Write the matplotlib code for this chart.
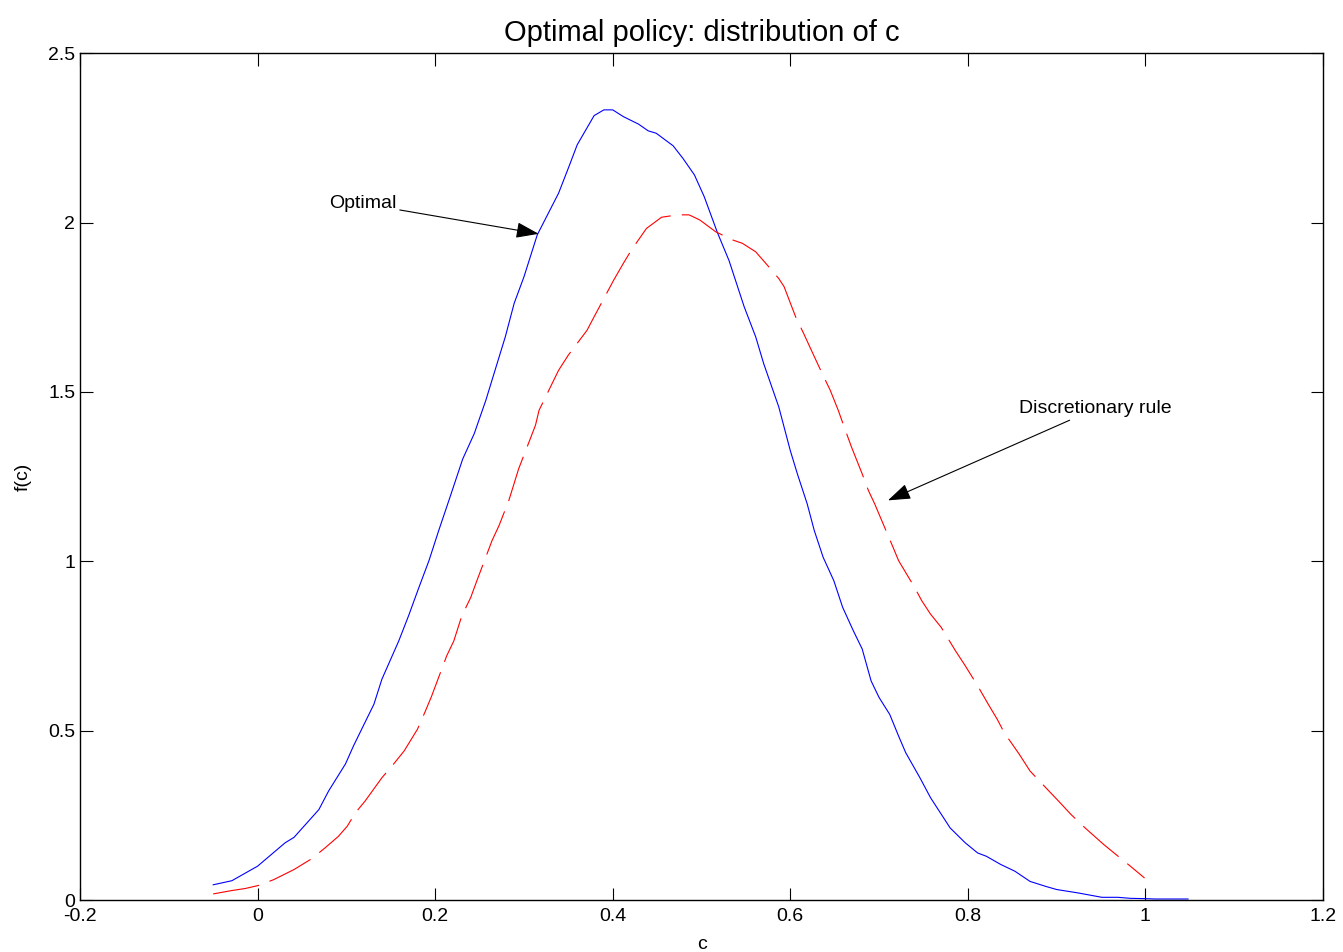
import matplotlib
matplotlib.use("Agg")
import matplotlib.pyplot as plt

plt.rcParams['font.family'] = ['Liberation Sans', 'DejaVu Sans']

# Optimal policy density
c_opt = [-0.050, -0.029, 0.000, 0.031, 0.041, 0.069, 0.080, 0.099, 0.108, 0.119,
         0.131, 0.140, 0.159, 0.170, 0.181, 0.193, 0.204, 0.216, 0.231, 0.244,
         0.257, 0.279, 0.289, 0.300, 0.315, 0.339, 0.350, 0.360, 0.379, 0.390,
         0.400, 0.412, 0.429, 0.440, 0.449, 0.468, 0.479, 0.492, 0.503, 0.518,
         0.531, 0.548, 0.561, 0.570, 0.587, 0.600, 0.608, 0.619, 0.627, 0.637,
         0.649, 0.659, 0.671, 0.681, 0.691, 0.700, 0.712, 0.722, 0.730, 0.746,
         0.758, 0.780, 0.797, 0.811, 0.821, 0.837, 0.853, 0.870, 0.888, 0.900,
         0.924, 0.951, 0.969, 0.983, 1.000, 1.011, 1.048]
f_opt = [0.045, 0.057, 0.100, 0.169, 0.185, 0.267, 0.322, 0.402, 0.455, 0.514,
         0.578, 0.652, 0.765, 0.839, 0.918, 1.002, 1.091, 1.184, 1.302, 1.377,
         1.475, 1.663, 1.762, 1.840, 1.964, 2.087, 2.161, 2.230, 2.316, 2.333,
         2.333, 2.313, 2.291, 2.271, 2.264, 2.227, 2.190, 2.141, 2.077, 1.970,
         1.888, 1.752, 1.663, 1.584, 1.456, 1.327, 1.258, 1.170, 1.091, 1.012,
         0.943, 0.864, 0.795, 0.741, 0.647, 0.598, 0.548, 0.484, 0.435, 0.361,
         0.302, 0.213, 0.169, 0.139, 0.129, 0.105, 0.085, 0.055, 0.040, 0.031,
         0.021, 0.008, 0.008, 0.005, 0.004, 0.003, 0.003]

# Discretionary rule density
c_dis = [-0.050, -0.029, -0.014, 0.001, 0.018, 0.041, 0.061, 0.076, 0.091, 0.101,
         0.110, 0.121, 0.140, 0.153, 0.165, 0.180, 0.189, 0.196, 0.213, 0.221,
         0.230, 0.240, 0.247, 0.264, 0.272, 0.283, 0.294, 0.313, 0.317, 0.339,
         0.350, 0.371, 0.378, 0.388, 0.401, 0.412, 0.421, 0.438, 0.455, 0.473,
         0.486, 0.498, 0.516, 0.535, 0.546, 0.561, 0.574, 0.587, 0.593, 0.606,
         0.615, 0.628, 0.636, 0.645, 0.654, 0.662, 0.669, 0.681, 0.688, 0.695,
         0.715, 0.722, 0.740, 0.748, 0.758, 0.770, 0.786, 0.796, 0.810, 0.823,
         0.833, 0.841, 0.858, 0.870, 0.888, 0.904, 0.916, 0.932, 0.953, 0.967,
         0.983, 0.999]
f_dis = [0.018, 0.028, 0.034, 0.043, 0.060, 0.090, 0.122, 0.154, 0.188, 0.218,
         0.257, 0.292, 0.361, 0.401, 0.440, 0.504, 0.558, 0.602, 0.721, 0.765,
         0.839, 0.893, 0.943, 1.061, 1.106, 1.180, 1.273, 1.402, 1.446, 1.564,
         1.609, 1.682, 1.717, 1.766, 1.830, 1.880, 1.919, 1.983, 2.016, 2.023,
         2.023, 2.008, 1.973, 1.949, 1.939, 1.914, 1.875, 1.835, 1.811, 1.722,
         1.673, 1.599, 1.554, 1.505, 1.446, 1.387, 1.337, 1.258, 1.209, 1.170,
         1.046, 1.002, 0.923, 0.884, 0.844, 0.805, 0.736, 0.696, 0.637, 0.578,
         0.534, 0.494, 0.430, 0.381, 0.331, 0.287, 0.253, 0.213, 0.164, 0.134,
         0.100, 0.065]

x_ticks = [-0.2, 0, 0.2, 0.4, 0.6, 0.8, 1, 1.2]
x_ticklabels = ['-0.2', '0', '0.2', '0.4', '0.6', '0.8', '1', '1.2']
y_ticks = [0, 0.5, 1, 1.5, 2, 2.5]
y_ticklabels = ['0', '0.5', '1', '1.5', '2', '2.5']

fig = plt.figure(figsize=(13.43, 9.52), dpi=100)
ax = fig.add_axes([0.0596, 0.0546, 0.9255, 0.8894])

ax.plot(c_opt, f_opt, color='#0000ff', lw=0.8)
ln, = ax.plot(c_dis, f_dis, color='#ff0000', lw=0.8)
ln.set_dashes([42, 10])

ax.set_xlim(-0.2, 1.2)
ax.set_ylim(0, 2.5)
ax.set_xticks(x_ticks)
ax.set_xticklabels(x_ticklabels)
ax.set_yticks(y_ticks)
ax.set_yticklabels(y_ticklabels)
ax.tick_params(direction='in', length=9, width=0.8, labelsize=14,
               top=True, right=True)
ax.tick_params(axis='x', pad=6)
for s in ax.spines.values():
    s.set_linewidth(1.0)

ax.set_title('Optimal policy: distribution of c', fontsize=21, pad=9)
ax.set_xlabel('c', fontsize=14, labelpad=8)
ax.set_ylabel('f(c)', fontsize=14, labelpad=12)

arrow = dict(arrowstyle='-|>,head_length=1.0,head_width=0.35', color='k',
             lw=0.8, shrinkA=0, shrinkB=0)
ax.annotate('Optimal', xy=(0.3166, 1.967), xytext=(0.157, 2.056),
            ha='right', va='center', fontsize=14, arrowprops=arrow)
ax.annotate('Discretionary rule', xy=(0.710, 1.180), xytext=(0.8575, 1.450),
            ha='left', va='center', fontsize=14, arrowprops=arrow)

fig.savefig('out.png', dpi=100)
